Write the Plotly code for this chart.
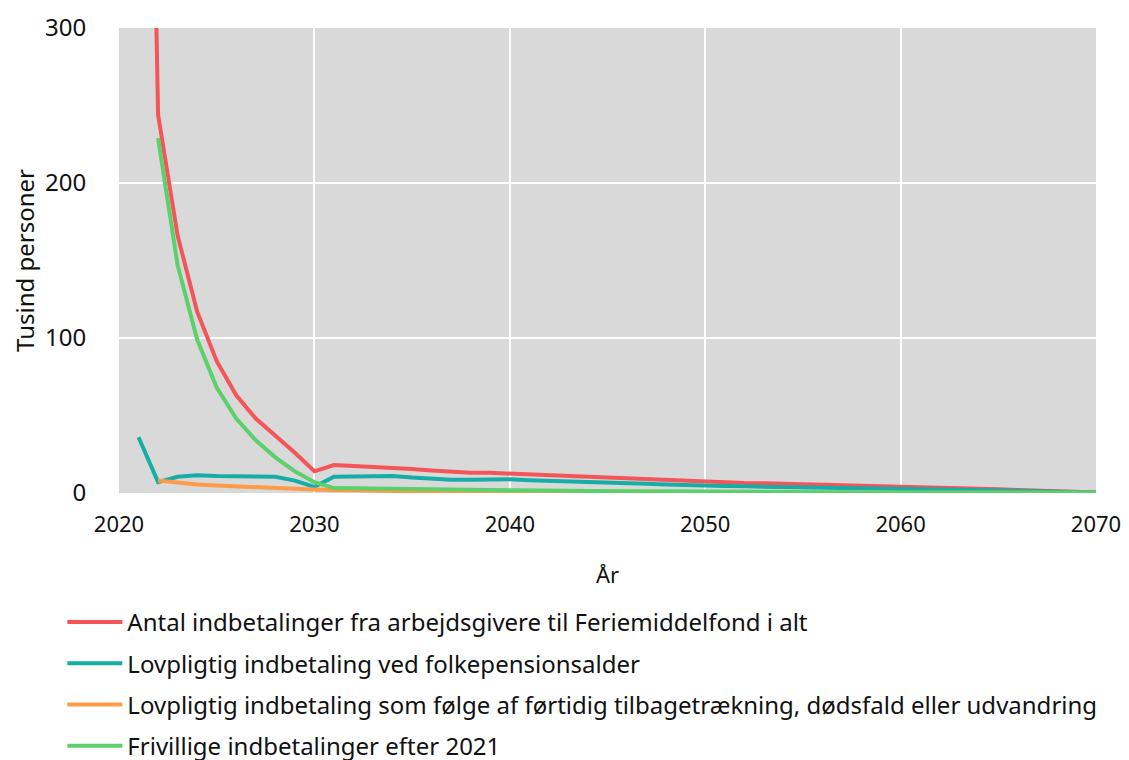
import plotly.graph_objects as go

years = list(range(2021, 2071))

antal_i_alt = [900, 244, 166, 117, 85, 63, 48, 37, 26, 14,
               18, 17.5, 17, 16.5, 15.5, 14.5, 13.5, 13, 13, 12.5,
               11.5, 11, 10.5, 10, 9.5, 9, 8.5, 8, 7.5, 7,
               6.8, 6.5, 6.3, 6, 5.8, 5.5, 5.3, 5, 4.8, 4.5,
               4, 3.6, 3.2, 2.8, 2.4, 2, 1.6, 1.2, 0.8, 0.4]

folkepension = [36, 7, 10.5, 11.5, 11, 11, 10.8, 10.5, 8, 4,
                10.5, 10.5, 11, 11, 10, 9.2, 8.6, 8.6, 9, 8.8,
                8.3, 8, 7.8, 7.2, 6.8, 6.5, 6, 5.5, 5, 4.7,
                4.5, 4.3, 4.1, 3.9, 3.8, 3.6, 3.5, 3.4, 3.3, 3.2,
                2.9, 2.6, 2.3, 2, 1.7, 1.4, 1.1, 0.8, 0.5, 0.3]

foertidig = [None, 8, 6.5, 5.5, 4.8, 4.2, 3.6, 3.1, 2.6, 2.2,
             1.9, 1.6, 1.4, 1.2, 1.0, 0.9, 0.8, 0.7, 0.6, 0.5,
             0.5, 0.4, 0.4, 0.4, 0.3, 0.3, 0.3, 0.3, 0.2, 0.2,
             0.2, 0.2, 0.2, 0.2, 0.1, 0.1, 0.1, 0.1, 0.1, 0.1,
             0.1, 0.1, 0.1, 0.1, 0.1, 0.1, 0.1, 0.1, 0.1, 0.1]

frivillige = [None, 229, 147, 99, 68, 48, 34, 23, 14, 7,
              3.2, 3, 2.8, 2.6, 2.4, 2.2, 2.0, 1.9, 1.8, 1.7,
              1.6, 1.5, 1.4, 1.3, 1.2, 1.1, 1.0, 0.9, 0.9, 0.8,
              0.8, 0.7, 0.7, 0.6, 0.6, 0.5, 0.5, 0.5, 0.4, 0.4,
              0.4, 0.3, 0.3, 0.3, 0.2, 0.2, 0.2, 0.2, 0.2, 0.2]

names = [
    "Antal indbetalinger fra arbejdsgivere til Feriemiddelfond i alt",
    "Lovpligtig indbetaling ved folkepensionsalder",
    "Lovpligtig indbetaling som følge af førtidig tilbagetrækning, dødsfald eller udvandring",
    "Frivillige indbetalinger efter 2021",
]
colors = ["#f45558", "#15ada5", "#ff9b48", "#5cd06b"]
series = [antal_i_alt, folkepension, foertidig, frivillige]

fig = go.Figure()
for i, (name, vals, col) in enumerate(zip(names, series, colors)):
    fig.add_trace(go.Scatter(
        x=years, y=vals, name=name, mode="lines",
        line=dict(color=col, width=4),
        legendgroup=str(i),
    ))

# the page has an 8px body margin, so the figure is 8px smaller than the window
font = "Noto Sans, Open Sans, sans-serif"
fig.update_layout(
    width=1121, height=752,
    margin=dict(l=111, r=33, t=20, b=267, autoexpand=False),
    plot_bgcolor="#d9d9d9",
    paper_bgcolor="white",
    font=dict(family=font, size=20, color="#111111"),
    showlegend=True,
    legend=dict(
        orientation="v",
        x=-0.058, y=-0.23, xanchor="left", yanchor="top",
        font=dict(size=24),
        itemwidth=55,
        tracegroupgap=7,
        bgcolor="rgba(0,0,0,0)",
    ),
)
fig.update_xaxes(
    range=[2020, 2070], tickvals=[2020, 2030, 2040, 2050, 2060, 2070],
    showgrid=True, gridcolor="white", gridwidth=2, zeroline=False,
    ticks="outside", ticklen=0, ticklabelstandoff=12,
    tickfont=dict(size=22),
    title=dict(text="År", standoff=30, font=dict(size=22)),
)
fig.update_yaxes(
    range=[0, 300], tickvals=[0, 100, 200, 300],
    showgrid=True, gridcolor="white", gridwidth=2, zeroline=False,
    ticks="outside", ticklen=0, ticklabelstandoff=27,
    tickfont=dict(size=24),
    title=dict(text="Tusind personer", standoff=4),
)

fig.write_html("out.html")
